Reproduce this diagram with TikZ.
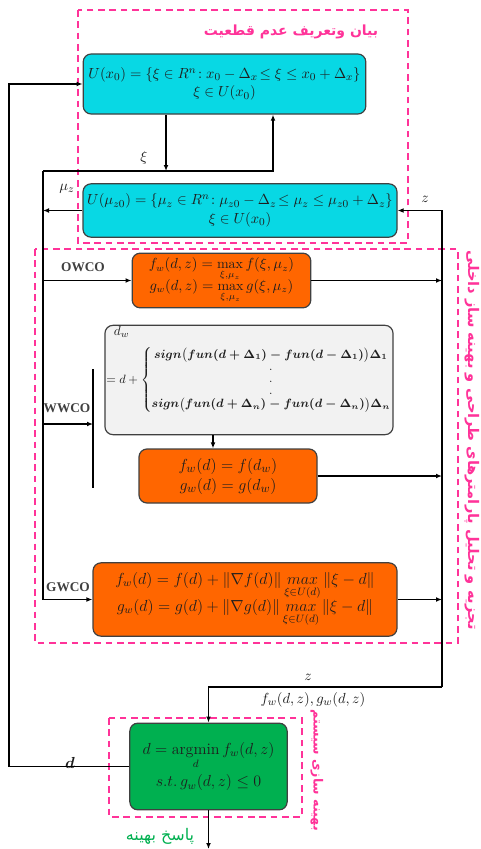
\documentclass[tikz,border=0pt]{standalone}
\usepackage{amsmath}
\usepackage{fontspec}
\usetikzlibrary{arrows.meta}
\newfontfamily\fafont[Script=Arabic]{DejaVu Sans}
\newfontfamily\tagfont{Liberation Serif}
\TeXXeTstate=1
\begin{document}
\begin{tikzpicture}[x=0.75pt, y=-0.75pt, box/.style={draw=fgBorder, line width=0.9pt, rounded corners=6pt, align=center, inner sep=2pt, font=\fontsize{11}{14}\selectfont, text=fgInk}, flow/.style={-{Latex[length=4.5pt,width=3.6pt]}, line width=0.9pt}, wire/.style={line width=0.9pt}, zone/.style={draw=fgPink, line width=1.1pt, dash pattern=on 5pt off 3.5pt}, tag/.style={font=\tagfont\bfseries\fontsize{10}{12}\selectfont, text=fgInk!85}, lbl/.style={font=\fontsize{11}{13}\selectfont, text=fgInk}, fatitle/.style={font=\fafont\bfseries\fontsize{11}{13}\selectfont, text=fgPink}]
\definecolor{fgInk}{RGB}{30,30,30}
\definecolor{fgBorder}{RGB}{64,64,64}
\definecolor{fgCyan}{RGB}{8,216,228}
\definecolor{fgOrange}{RGB}{255,102,0}
\definecolor{fgGreen}{RGB}{0,176,80}
\definecolor{fgGray}{RGB}{242,242,242}
\definecolor{fgPink}{RGB}{255,51,153}
\useasboundingbox (0,0) rectangle (480,849);
\draw[zone] (78,10) rectangle (408,243);
\draw[zone] (35,249) rectangle (458,643);
\draw[zone] (109,718) rectangle (302,817);
\node[fatitle, font=\fafont\bfseries\fontsize{10.5}{13}\selectfont] (title) at (291,32) {\beginR بیان وتعریف عدم قطعیت\endR};
\node[fatitle, rotate=-90] (side) at (472,440) {\beginR تجزیه و تحلیل پارامترهای طراحی و بهینه ساز داخلی\endR};
\node[fatitle, rotate=-90, font=\fafont\bfseries\fontsize{9.5}{11}\selectfont] (optside) at (317,770) {\beginR بهینه سازی سیستم\endR};
\node[font=\fafont\fontsize{12}{14}\selectfont, text=fgGreen] (answer) at (160,836) {\beginR پاسخ بهینه\endR};
\node[box, fill=fgCyan, minimum width=212pt, minimum height=45pt] (ux) at (224.5,84) {$U(x_0)=\{\xi\in R^n\!:x_0-\Delta_x\!\le\xi\le x_0+\Delta_x\}$\\ $\xi\in U(x_0)$};
\node[box, fill=fgCyan, minimum width=235.5pt, minimum height=40pt] (uz) at (240,210.5) {$U(\mu_{z0})=\{\mu_z\in R^n\!:\mu_{z0}-\Delta_z\!\le\mu_z\le\mu_{z0}+\Delta_z\}$\\ $\xi\in U(x_0)$};
\node[box, fill=fgOrange, minimum width=134pt, minimum height=41pt, font=\fontsize{10.5}{12}\selectfont] (ow) at (221.5,280.5) {$f_w(d,z)=\max\limits_{\xi,\mu_z} f(\xi,\mu_z)$\\[-2pt] $g_w(d,z)=\max\limits_{\xi,\mu_z} g(\xi,\mu_z)$};
\node[box, fill=fgGray, minimum width=214.5pt, minimum height=82pt, inner sep=1pt, font=\fontsize{9}{11}\selectfont] (gray) at (249,380) {$=d+\left\{\renewcommand{\arraystretch}{0.8}\begin{array}{@{}c@{}}\boldsymbol{sign\big(fun(d+\Delta_1)-fun(d-\Delta_1)\big)\Delta_1}\\ .\\ .\\ .\\ \boldsymbol{sign\big(fun(d+\Delta_n)-fun(d-\Delta_n)\big)\Delta_n}\end{array}\right.$};
\node[lbl, anchor=north west, inner sep=1pt, font=\fontsize{10}{12}\selectfont] (dw) at ([xshift=6pt]gray.north west) {$d_w$};
\node[box, fill=fgOrange, minimum width=133.5pt, minimum height=40.5pt, font=\fontsize{12.5}{15}\selectfont] (ww) at (228,476) {$f_w(d)=f(d_w)$\\ $g_w(d)=g(d_w)$};
\node[box, fill=fgOrange, minimum width=228pt, minimum height=55pt, font=\fontsize{12}{15}\selectfont] (gw) at (245,599.5) {$f_w(d)=f(d)+\|\nabla f(d)\|\mathop{max}\limits_{\xi\in U(d)}\|\xi-d\|$\\[-1pt] $g_w(d)=g(d)+\|\nabla g(d)\|\mathop{max}\limits_{\xi\in U(d)}\|\xi-d\|$};
\node[box, fill=fgGreen, minimum width=118pt, minimum height=65pt, font=\fontsize{12}{15}\selectfont] (opt) at (208.5,766.5) {$d=\operatorname*{argmin}\limits_d f_w(d,z)$\\[3pt] $s.t.\,g_w(d,z)\le 0$};
\node[tag] (owt) at (83,267) {OWCO};
\node[tag] (wwt) at (67,408) {WWCO};
\node[tag] (gwt) at (68,587) {GWCO};
\node[lbl] (xil) at (144,158) {$\xi$};
\node[lbl] (mul) at (67,189) {$\mu_z$};
\node[lbl] (zl) at (425,199) {$z$};
\node[lbl] (zb) at (308,677) {$z$};
\node[lbl] (fgl) at (313,700) {$f_w(d,z),g_w(d,z)$};
\node[lbl, font=\fontsize{13}{15}\selectfont] (dl) at (70,763) {$\boldsymbol{d}$};
\coordinate (lb) at (9,84);
\coordinate (xi) at (166,171);
\coordinate (bl) at (43,171);
\coordinate (br) at (273,171);
\coordinate (wtop) at (93,369);
\coordinate (wbot) at (93,488);
\coordinate (wbar) at (93,424);
\coordinate (rt) at (442,210.5);
\coordinate (rb) at (442,687);
\coordinate (fin) at (208.5,849);
\draw[flow] (opt.west) -| (lb) -- (ux.west);
\draw[flow] (ux.south -| xi) -- (xi);
\draw[flow] (bl) -- (br) -- (br |- ux.south);
\draw[flow] (bl) -- (bl |- gw.west) -- (gw.west);
\draw[flow] (bl |- ow.west) -- (ow.west);
\draw[flow] (uz.west) -- (uz.west -| bl);
\draw[wire] (wtop) -- (wbot);
\draw[flow] (bl |- wbar) -- (wbar);
\draw[flow] ([xshift=-11.25pt]ww.north |- gray.south) -- ([xshift=-11.25pt]ww.north);
\draw[flow] (rb) -- (rt) -- (uz.east);
\draw[flow] (rb) -| (opt.north);
\draw[flow] (ow.east) -- (ow.east -| rt);
\draw[flow] (ww.east) -- (ww.east -| rt);
\draw[flow] (gw.east) -- (gw.east -| rt);
\draw[flow] (opt.south) -- (fin);
\end{tikzpicture}
\end{document}
